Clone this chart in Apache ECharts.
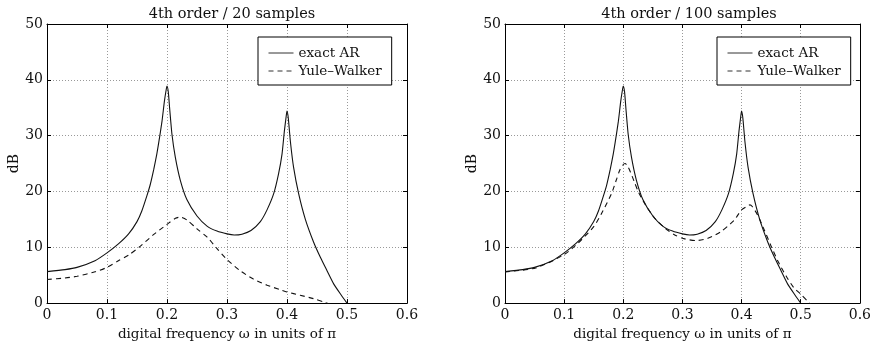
<!DOCTYPE html>
<html>
<head>
<meta charset="utf-8">
<script src="https://cdn.jsdelivr.net/npm/echarts@6/dist/echarts.min.js"></script>
<style>
html,body{margin:0;padding:0;background:#fff;}
#chart{width:874px;height:346px;}
</style>
</head>
<body>
<div id="chart"></div>
<script>
// ---- data ----
const titles = ['4th order / 20 samples', '4th order / 100 samples'];
const seriesNames = ['exact AR', 'Yule\u2013Walker'];
const xTicks = [0, 0.1, 0.2, 0.3, 0.4, 0.5, 0.6];
const yTicks = [0, 10, 20, 30, 40, 50];

// exact AR spectrum (same in both panels)
const exactX = [0, 0.03, 0.05, 0.08, 0.1, 0.119, 0.136, 0.15, 0.158, 0.1667, 0.172, 0.178, 0.183, 0.186, 0.1917, 0.1956, 0.1989, 0.2, 0.2022, 0.2044, 0.2083, 0.2139, 0.2222, 0.2333, 0.25, 0.2667, 0.2833, 0.3, 0.312, 0.325, 0.34, 0.3556, 0.3667, 0.3778, 0.386, 0.3917, 0.3956, 0.3989, 0.4, 0.4022, 0.4056, 0.411, 0.4194, 0.4306, 0.4444, 0.4556, 0.4667, 0.478, 0.49, 0.5];
const exactY = [5.64, 6.0, 6.4, 7.6, 9.0, 10.6, 12.4, 14.6, 16.5, 19.3, 21.2, 24.0, 26.7, 28.6, 32.6, 36.1, 38.4, 38.9, 37.8, 34.9, 30.2, 26.1, 22.0, 18.5, 15.6, 13.8, 12.9, 12.4, 12.2, 12.35, 13.0, 14.6, 16.7, 19.6, 23.2, 26.7, 30.8, 33.7, 34.4, 33.1, 29.0, 24.3, 19.6, 15.0, 10.9, 8.2, 5.8, 3.4, 1.5, 0];

// Yule-Walker estimate, 20 samples
const yw20X = [0, 0.03, 0.05, 0.08, 0.1, 0.119, 0.136, 0.1556, 0.178, 0.2, 0.214, 0.222, 0.233, 0.25, 0.267, 0.283, 0.3, 0.322, 0.344, 0.367, 0.389, 0.4, 0.422, 0.444, 0.461, 0.48];
const yw20Y = [4.24, 4.5, 4.8, 5.6, 6.4, 7.6, 8.6, 10.2, 12.3, 14.1, 15.2, 15.4, 14.9, 13.3, 11.8, 9.8, 7.8, 5.8, 4.3, 3.2, 2.4, 2.0, 1.4, 0.8, 0.2, -0.5];

// Yule-Walker estimate, 100 samples
const yw100X = [0, 0.052, 0.1, 0.124, 0.15, 0.163, 0.18, 0.188, 0.194, 0.199, 0.203, 0.207, 0.212, 0.218, 0.226, 0.238, 0.254, 0.271, 0.287, 0.304, 0.323, 0.343, 0.365, 0.381, 0.388, 0.4, 0.41, 0.414, 0.418, 0.427, 0.438, 0.45, 0.462, 0.475, 0.488, 0.5, 0.515, 0.525];
const yw100Y = [5.6, 6.3, 8.7, 10.8, 13.7, 16.0, 19.6, 22.0, 23.8, 24.7, 25.0, 24.6, 23.5, 21.9, 19.8, 17.5, 15.1, 13.4, 12.2, 11.5, 11.2, 11.6, 12.8, 14.2, 14.9, 16.7, 17.4, 17.6, 17.3, 15.8, 13.2, 10.2, 7.4, 4.9, 2.8, 1.6, 0, -0.8];

// ---- build ----
const FONT = 'DejaVu Serif';
const INK = '#111';
const zip = (xs, ys) => xs.map((x, i) => [x, ys[i]]);

const grids = [
  {left: 47, top: 24, width: 360, height: 284},
  {left: 505, top: 24, width: 359, height: 284}
];

const xAxes = [], yAxes = [];
[0, 1].forEach(g => {
  xAxes.push({
    type: 'value', gridIndex: g, min: xTicks[0], max: xTicks[xTicks.length - 1], interval: 0.1,
    position: 'bottom',
    name: 'digital frequency \u03c9 in units of \u03c0', nameLocation: 'middle', nameGap: 20,
    nameTextStyle: {fontFamily: FONT, fontSize: 13.5, color: INK},
    axisLine: {show: true, onZero: false, lineStyle: {color: '#000', width: 1}},
    axisTick: {show: true, inside: true, length: 4, lineStyle: {color: '#000'}},
    axisLabel: {fontFamily: FONT, fontSize: 14, color: INK, margin: 5,
      formatter: v => String(Math.round(v * 10) / 10)},
    splitLine: {show: true, lineStyle: {color: '#999', type: [1, 2], width: 1}}
  });
  yAxes.push({
    type: 'value', gridIndex: g, min: yTicks[0], max: yTicks[yTicks.length - 1], interval: 10,
    position: 'left',
    name: 'dB', nameLocation: 'middle', nameGap: 17, nameRotate: 90,
    nameTextStyle: {fontFamily: FONT, fontSize: 14, color: INK},
    axisLine: {show: true, onZero: false, lineStyle: {color: '#000', width: 1}},
    axisTick: {show: true, inside: true, length: 4, lineStyle: {color: '#000'}},
    axisLabel: {fontFamily: FONT, fontSize: 14, color: INK, margin: 4},
    splitLine: {show: true, lineStyle: {color: '#999', type: [1, 2], width: 1}}
  });
});
[0, 1].forEach(g => {
  xAxes.push({
    type: 'value', gridIndex: g, min: 0, max: 0.6, interval: 0.1, position: 'top',
    axisLine: {show: true, onZero: false, lineStyle: {color: '#000', width: 1}},
    axisTick: {show: true, inside: true, length: 4, lineStyle: {color: '#000'}},
    axisLabel: {show: false}, splitLine: {show: false}
  });
  yAxes.push({
    type: 'value', gridIndex: g, min: 0, max: 50, interval: 10, position: 'right',
    axisLine: {show: true, onZero: false, lineStyle: {color: '#000', width: 1}},
    axisTick: {show: true, inside: true, length: 4, lineStyle: {color: '#000'}},
    axisLabel: {show: false}, splitLine: {show: false}
  });
});

const ywData = [yw20X, yw100X].map((xs, i) => zip(xs, [yw20Y, yw100Y][i]));
const series = [];
[0, 1].forEach(g => {
  series.push({
    name: seriesNames[0], type: 'line', xAxisIndex: g, yAxisIndex: g,
    data: zip(exactX, exactY), showSymbol: false, symbol: 'none', smooth: 0.2,
    lineStyle: {color: '#111', width: 1.1, type: 'solid'}, itemStyle: {color: '#111'},
    animation: false, silent: true, clip: true
  });
  series.push({
    name: seriesNames[1], type: 'line', xAxisIndex: g, yAxisIndex: g,
    data: ywData[g], showSymbol: false, symbol: 'none', smooth: 0.25,
    lineStyle: {color: '#111', width: 1.1, type: [5, 4]}, itemStyle: {color: '#111'},
    animation: false, silent: true, clip: true
  });
});

const legends = [258, 717].map(l => ({
  left: l, top: 37, orient: 'vertical',
  data: seriesNames,
  itemWidth: 25, itemHeight: 12, itemGap: 2,
  padding: [8, 10, 6, 10],
  borderColor: '#000', borderWidth: 1, backgroundColor: '#fff',
  itemStyle: {color: 'rgba(0,0,0,0)', borderColor: 'rgba(0,0,0,0)', borderWidth: 0, opacity: 0},
  lineStyle: {width: 1, color: '#333'},
  textStyle: {fontFamily: FONT, fontSize: 13.5, color: INK, lineHeight: 16},
  selectedMode: false
}));

const chart = echarts.init(document.getElementById('chart'), null, {renderer: 'canvas'});
chart.setOption({
  animation: false,
  backgroundColor: '#fff',
  title: [
    {text: titles[0], left: 227, top: 2, textAlign: 'center',
     textStyle: {fontFamily: FONT, fontSize: 14.5, fontWeight: 'normal', color: INK}},
    {text: titles[1], left: 684, top: 2, textAlign: 'center',
     textStyle: {fontFamily: FONT, fontSize: 14.5, fontWeight: 'normal', color: INK}}
  ],
  legend: legends,
  grid: grids,
  xAxis: xAxes,
  yAxis: yAxes,
  series: series
});
</script>
</body>
</html>
